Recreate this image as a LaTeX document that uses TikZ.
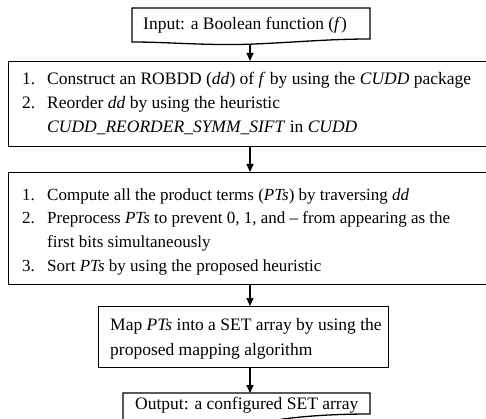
\documentclass[tikz,border=0pt]{standalone}
\usepackage{fontspec}
\setmainfont{Liberation Serif}
\usetikzlibrary{arrows.meta}
\begin{document}
\begin{tikzpicture}[x=1pt,y=-1pt,
  box/.style={draw,line width=1.3pt,inner sep=0pt,anchor=north west},
  shapeline/.style={draw,line width=1.3pt},
  txt/.style={anchor=base west,inner sep=0pt,font=\fontsize{17.5}{23.5}\selectfont},
  txtb/.style={anchor=base west,inner sep=0pt,font=\fontsize{17}{23}\selectfont},
  conn/.style={line width=1.2pt,-{Triangle[length=8pt,width=7pt]}}]
\useasboundingbox (0,0) rectangle (486,419);
% input (document shape)
\draw[shapeline] (132,8) -- (370,8) -- (370,39) .. controls (330,39) and (300,42) .. (255,44) .. controls (210,46) and (170,42) .. (132,42) -- cycle;
\coordinate (inb) at (250,44);
\node[txt] (tin) at (143,29.5) {Input: a Boolean function (\textit{f})};
% box 1
\node[box,minimum width=484pt,minimum height=85pt] (b1) at (8,61) {};
\node[txt] (n11) at (22,84.5) {1.};
\node[txt] (l11) at (47,84.5) {Construct an ROBDD (\textit{dd}) of \textit{f} by using the \textit{CUDD} package};
\node[txt] (n12) at (22,108.5) {2.};
\node[txt] (l12) at (47,108.5) {Reorder \textit{dd} by using the heuristic};
\node[txt] (l13) at (47,132.5) {\textit{CUDD\_REORDER\_SYMM\_SIFT} in \textit{CUDD}};
% box 2
\node[box,minimum width=484pt,minimum height=112pt] (b2) at (8,172) {};
\node[txtb] (n21) at (22,200.5) {1.};
\node[txtb] (l21) at (47,200.5) {Compute all the product terms (\textit{PTs}) by traversing \textit{dd}};
\node[txtb] (n22) at (22,224) {2.};
\node[txtb] (l22) at (47,224) {Preprocess \textit{PTs} to prevent 0, 1, and -- from appearing as the};
\node[txtb] (l23) at (47,247.5) {first bits simultaneously};
\node[txtb] (n24) at (22,271) {3.};
\node[txtb] (l24) at (47,271) {Sort \textit{PTs} by using the proposed heuristic};
% box 3
\node[box,minimum width=290pt,minimum height=61pt] (b3) at (98,306) {};
\node[txt] (l31) at (110,330) {Map \textit{PTs} into a SET array by using the};
\node[txt] (l32) at (110,355.5) {proposed mapping algorithm};
% output (document shape, cut by page edge)
\draw[shapeline] (123,432) -- (123,393) -- (370,393) -- (370,414) .. controls (335,414) and (300,416) .. (270,421) .. controls (230,428) and (170,432) .. (123,432);
\coordinate (outt) at (250,393);
\node[txt] (tout) at (135,409) {Output: a configured SET array};
% connectors
\draw[conn] (inb) -- (b1.north -| inb);
\draw[conn] (b1.south -| inb) -- (b2.north -| inb);
\draw[conn] (b2.south -| inb) -- (b3.north -| inb);
\draw[conn] (b3.south -| inb) -- (outt);
\end{tikzpicture}
\end{document}
